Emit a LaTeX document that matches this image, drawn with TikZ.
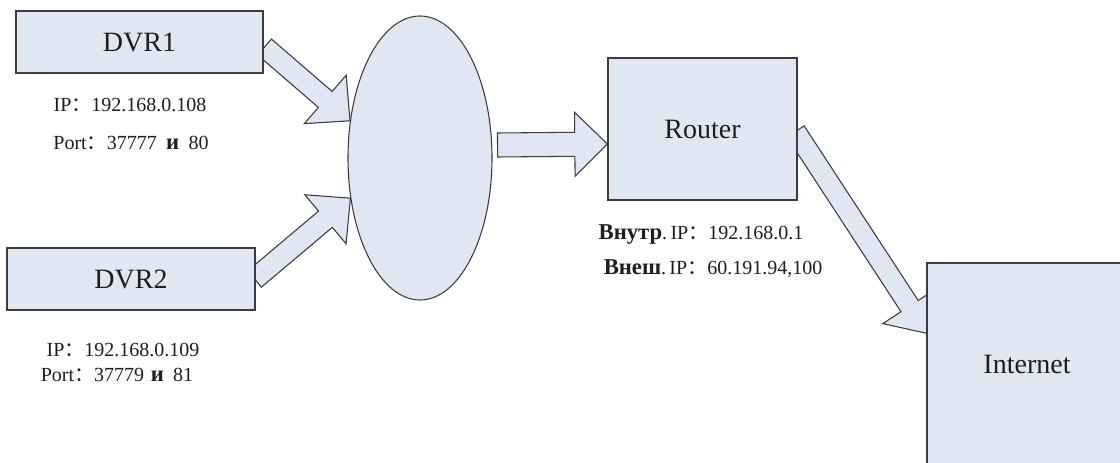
\documentclass[tikz,border=0pt]{standalone}
\usepackage{fontspec}
\setmainfont{Liberation Serif}
\newfontfamily\cjkf{Noto Sans CJK SC}
\usetikzlibrary{calc,shapes.geometric,backgrounds}
\definecolor{boxfill}{RGB}{224,231,243}
\definecolor{boxline}{RGB}{60,60,60}
\definecolor{txt}{RGB}{30,30,30}
\newcommand\fc{{\cjkf ：}}
\newcommand\cyr[1]{{\fontsize{17}{20}\selectfont\bfseries #1}}
% block arrow: #1 tail, #2 tip, #3 shaft half width
\newcommand\blockarrow[3]{%
  \coordinate (ba-b) at ($(#2)!24.5pt!(#1)$);
  \filldraw[shapestyle] ($(#1)!#3!90:(#2)$) -- ($(ba-b)!#3!-90:(#1)$)
    -- ($(ba-b)!24pt!-90:(#1)$) -- (#2) -- ($(ba-b)!24pt!90:(#1)$)
    -- ($(ba-b)!#3!90:(#1)$) -- ($(#1)!#3!-90:(#2)$) -- cycle;}
\begin{document}
\begin{tikzpicture}[x=0.75pt,y=-0.75pt,
  shapestyle/.style={draw=boxline, fill=boxfill, line width=0.8pt, line join=miter},
  box/.style={shapestyle, rectangle, inner sep=0pt, font=\fontsize{21}{24}\selectfont, text=txt},
  lbl/.style={font=\fontsize{15}{18}\selectfont, text=txt, inner sep=0pt}]
\useasboundingbox (0,0) rectangle (1120,463);
\clip (0,0) rectangle (1120,463);

\node[box, minimum width=185.25pt, minimum height=46.5pt] (dvr1) at (139.5,42) {DVR1};
\node[box, minimum width=186pt, minimum height=46.5pt] (dvr2) at (131,279) {DVR2};
\node[shapestyle, ellipse, inner sep=0pt, minimum width=108pt, minimum height=213pt] (ell) at (420,158) {};
\node[box, minimum width=141.75pt, minimum height=106.5pt] (router) at (702.5,129) {Router};
\node[box, minimum width=150pt, minimum height=151.5pt] (inet) at (1027,364) {Internet};

\coordinate (a1s) at ([shift={(1,5)}]dvr1.east);
\coordinate (a1t) at (ell.152);
\coordinate (a2s) at ([shift={(-1,0)}]dvr2.east);
\coordinate (a2t) at (ell.210.5);
\coordinate (a3s) at ([shift={(5,-13)}]ell.east);
\coordinate (a3t) at ([shift={(0,15)}]router.west);
\coordinate (a4s) at ([shift={(-2,2.5)}]router.east);
\coordinate (a4t) at ([shift={(1,71)}]inet.north west);

\begin{pgfonlayer}{background}
\blockarrow{a1s}{a1t}{7.9pt}
\blockarrow{a2s}{a2t}{8pt}
\blockarrow{a3s}{a3t}{9pt}
\blockarrow{a4s}{a4t}{7.7pt}
\end{pgfonlayer}

\node[lbl] (ip1) at (130,105) {IP\fc192.168.0.108};
\node[lbl] (port1) at (131,143) {Port\fc37777\hspace{7pt}\cyr{и}\hspace{7pt}80};
\node[lbl] (ip2) at (123,350) {IP\fc192.168.0.109};
\node[lbl] (port2) at (117,375) {Port\fc37779\hspace{5pt}\cyr{и}\hspace{7pt}81};
\node[lbl] (rin) at (701,235) {\cyr{Внутр}.\,IP\fc192.168.0.1};
\node[lbl] (rout) at (713,269) {\cyr{Внеш}.\,IP\fc60.191.94,100};
\end{tikzpicture}
\end{document}
